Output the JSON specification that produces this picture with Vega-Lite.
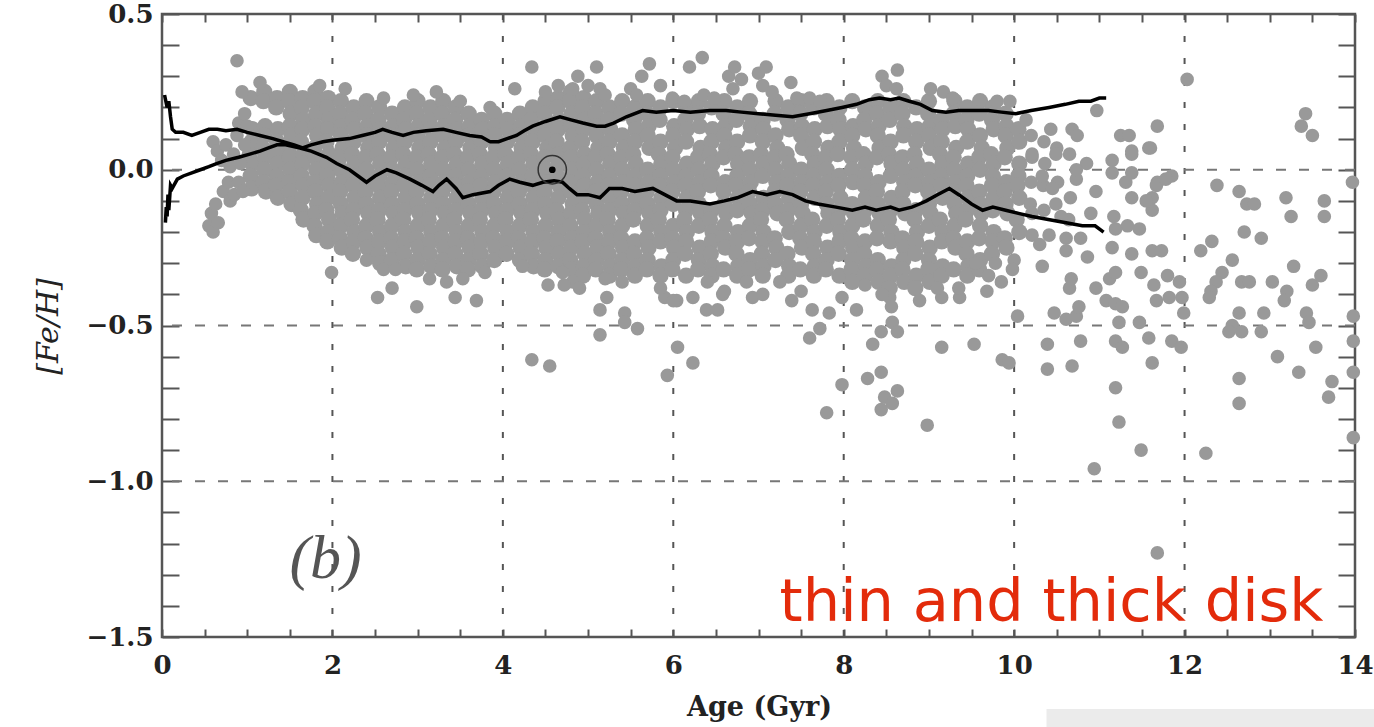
{
"$schema":"https://vega.github.io/schema/vega-lite/v6.json",
"width":1193,"height":623,
"autosize":{"type":"none"},
"padding":{"left":162,"top":14,"right":19,"bottom":90},
"background":"white",
"config":{"view":{"stroke":"#555","strokeWidth":2.5}},
"datasets":{
"gx":[{"v":2},{"v":4},{"v":6},{"v":8},{"v":10},{"v":12}],
"gy":[{"v":0},{"v":-0.5},{"v":-1}],
"core":[
{"a":1.04,"f":0.23},{"a":1.06,"f":0.13},{"a":1.05,"f":0.09},{"a":1.03,"f":0.05},{"a":1.06,"f":0.02},{"a":1.04,"f":-0.02},{"a":1.05,"f":-0.06},
{"a":1.2,"f":0.25},{"a":1.19,"f":0.22},{"a":1.21,"f":0.14},{"a":1.2,"f":0.11},{"a":1.18,"f":0.07},{"a":1.21,"f":0.04},{"a":1.2,"f":0.0},{"a":1.19,"f":-0.04},{"a":1.22,"f":-0.07},
{"a":1.35,"f":0.23},{"a":1.34,"f":0.2},{"a":1.36,"f":0.13},{"a":1.35,"f":0.09},{"a":1.33,"f":0.05},{"a":1.36,"f":0.02},{"a":1.35,"f":-0.02},{"a":1.34,"f":-0.05},{"a":1.36,"f":-0.09},
{"a":1.5,"f":0.25},{"a":1.49,"f":0.22},{"a":1.51,"f":0.18},{"a":1.5,"f":0.14},{"a":1.52,"f":0.11},{"a":1.49,"f":0.07},{"a":1.5,"f":0.04},{"a":1.51,"f":0.0},{"a":1.49,"f":-0.04},{"a":1.5,"f":-0.07},{"a":1.52,"f":-0.11},
{"a":1.65,"f":0.23},{"a":1.64,"f":0.2},{"a":1.66,"f":0.16},{"a":1.65,"f":0.13},{"a":1.63,"f":0.09},{"a":1.66,"f":0.05},{"a":1.65,"f":0.02},{"a":1.64,"f":-0.02},{"a":1.66,"f":-0.05},{"a":1.65,"f":-0.09},{"a":1.63,"f":-0.13},{"a":1.66,"f":-0.16},
{"a":1.8,"f":0.25},{"a":1.79,"f":0.22},{"a":1.81,"f":0.18},{"a":1.8,"f":0.14},{"a":1.82,"f":0.11},{"a":1.79,"f":0.07},{"a":1.8,"f":0.04},{"a":1.81,"f":0.0},{"a":1.79,"f":-0.04},{"a":1.8,"f":-0.07},{"a":1.82,"f":-0.11},{"a":1.8,"f":-0.14},{"a":1.79,"f":-0.18},{"a":1.81,"f":-0.21},
{"a":1.95,"f":0.23},{"a":1.94,"f":0.2},{"a":1.96,"f":0.16},{"a":1.95,"f":0.13},{"a":1.93,"f":0.09},{"a":1.96,"f":0.05},{"a":1.95,"f":0.02},{"a":1.94,"f":-0.02},{"a":1.96,"f":-0.05},{"a":1.95,"f":-0.09},{"a":1.93,"f":-0.13},{"a":1.96,"f":-0.16},{"a":1.95,"f":-0.2},{"a":1.94,"f":-0.23},
{"a":2.1,"f":0.22},{"a":2.09,"f":0.18},{"a":2.11,"f":0.14},{"a":2.1,"f":0.11},{"a":2.12,"f":0.07},{"a":2.09,"f":0.04},{"a":2.1,"f":0.0},{"a":2.11,"f":-0.04},{"a":2.09,"f":-0.07},{"a":2.1,"f":-0.11},{"a":2.12,"f":-0.14},{"a":2.1,"f":-0.18},{"a":2.09,"f":-0.22},{"a":2.11,"f":-0.25},
{"a":2.25,"f":0.2},{"a":2.24,"f":0.16},{"a":2.26,"f":0.13},{"a":2.25,"f":0.09},{"a":2.23,"f":0.05},{"a":2.26,"f":0.02},{"a":2.25,"f":-0.02},{"a":2.24,"f":-0.05},{"a":2.26,"f":-0.09},{"a":2.25,"f":-0.13},{"a":2.23,"f":-0.16},{"a":2.26,"f":-0.2},{"a":2.25,"f":-0.23},{"a":2.24,"f":-0.27},
{"a":2.4,"f":0.22},{"a":2.39,"f":0.18},{"a":2.41,"f":0.14},{"a":2.4,"f":0.11},{"a":2.42,"f":0.07},{"a":2.39,"f":0.04},{"a":2.4,"f":0.0},{"a":2.41,"f":-0.04},{"a":2.39,"f":-0.07},{"a":2.4,"f":-0.11},{"a":2.42,"f":-0.14},{"a":2.4,"f":-0.18},{"a":2.39,"f":-0.22},{"a":2.41,"f":-0.25},
{"a":2.55,"f":0.2},{"a":2.54,"f":0.16},{"a":2.56,"f":0.13},{"a":2.55,"f":0.09},{"a":2.53,"f":0.05},{"a":2.56,"f":0.02},{"a":2.55,"f":-0.02},{"a":2.54,"f":-0.05},{"a":2.56,"f":-0.09},{"a":2.55,"f":-0.13},{"a":2.53,"f":-0.16},{"a":2.56,"f":-0.2},{"a":2.55,"f":-0.23},{"a":2.54,"f":-0.27},{"a":2.56,"f":-0.3},
{"a":2.7,"f":0.18},{"a":2.71,"f":0.14},{"a":2.7,"f":0.11},{"a":2.72,"f":0.07},{"a":2.69,"f":0.04},{"a":2.7,"f":0.0},{"a":2.71,"f":-0.04},{"a":2.69,"f":-0.07},{"a":2.7,"f":-0.11},{"a":2.72,"f":-0.14},{"a":2.7,"f":-0.18},{"a":2.69,"f":-0.22},{"a":2.71,"f":-0.25},{"a":2.7,"f":-0.29},
{"a":2.85,"f":0.2},{"a":2.84,"f":0.16},{"a":2.86,"f":0.13},{"a":2.85,"f":0.09},{"a":2.83,"f":0.05},{"a":2.86,"f":0.02},{"a":2.85,"f":-0.02},{"a":2.84,"f":-0.05},{"a":2.86,"f":-0.09},{"a":2.85,"f":-0.13},{"a":2.83,"f":-0.16},{"a":2.86,"f":-0.2},{"a":2.85,"f":-0.23},{"a":2.84,"f":-0.27},{"a":2.86,"f":-0.31},
{"a":3.0,"f":0.22},{"a":2.99,"f":0.18},{"a":3.01,"f":0.14},{"a":3.0,"f":0.11},{"a":3.02,"f":0.07},{"a":2.99,"f":0.04},{"a":3.0,"f":0.0},{"a":3.01,"f":-0.04},{"a":2.99,"f":-0.07},{"a":3.0,"f":-0.11},{"a":3.02,"f":-0.14},{"a":3.0,"f":-0.18},{"a":2.99,"f":-0.22},{"a":3.01,"f":-0.25},{"a":3.0,"f":-0.29},{"a":2.99,"f":-0.32},
{"a":3.15,"f":0.2},{"a":3.14,"f":0.16},{"a":3.16,"f":0.13},{"a":3.15,"f":0.09},{"a":3.13,"f":0.05},{"a":3.16,"f":0.02},{"a":3.15,"f":-0.02},{"a":3.14,"f":-0.05},{"a":3.16,"f":-0.09},{"a":3.15,"f":-0.13},{"a":3.13,"f":-0.16},{"a":3.16,"f":-0.2},{"a":3.15,"f":-0.23},{"a":3.14,"f":-0.27},{"a":3.16,"f":-0.31},
{"a":3.3,"f":0.22},{"a":3.29,"f":0.18},{"a":3.31,"f":0.14},{"a":3.3,"f":0.11},{"a":3.32,"f":0.07},{"a":3.29,"f":0.04},{"a":3.3,"f":0.0},{"a":3.31,"f":-0.04},{"a":3.29,"f":-0.07},{"a":3.3,"f":-0.11},{"a":3.32,"f":-0.14},{"a":3.3,"f":-0.18},{"a":3.29,"f":-0.22},{"a":3.31,"f":-0.25},{"a":3.3,"f":-0.29},{"a":3.29,"f":-0.32},
{"a":3.45,"f":0.2},{"a":3.44,"f":0.16},{"a":3.46,"f":0.13},{"a":3.45,"f":0.09},{"a":3.43,"f":0.05},{"a":3.46,"f":0.02},{"a":3.45,"f":-0.02},{"a":3.44,"f":-0.05},{"a":3.46,"f":-0.09},{"a":3.45,"f":-0.13},{"a":3.43,"f":-0.16},{"a":3.46,"f":-0.2},{"a":3.45,"f":-0.23},{"a":3.44,"f":-0.27},{"a":3.46,"f":-0.31},
{"a":3.6,"f":0.18},{"a":3.61,"f":0.14},{"a":3.6,"f":0.11},{"a":3.62,"f":0.07},{"a":3.59,"f":0.04},{"a":3.6,"f":0.0},{"a":3.61,"f":-0.04},{"a":3.59,"f":-0.07},{"a":3.6,"f":-0.11},{"a":3.62,"f":-0.14},{"a":3.6,"f":-0.18},{"a":3.59,"f":-0.22},{"a":3.61,"f":-0.25},{"a":3.6,"f":-0.29},{"a":3.59,"f":-0.32},
{"a":3.75,"f":0.16},{"a":3.76,"f":0.13},{"a":3.75,"f":0.09},{"a":3.73,"f":0.05},{"a":3.76,"f":0.02},{"a":3.75,"f":-0.02},{"a":3.74,"f":-0.05},{"a":3.76,"f":-0.09},{"a":3.75,"f":-0.13},{"a":3.73,"f":-0.16},{"a":3.76,"f":-0.2},{"a":3.75,"f":-0.23},{"a":3.74,"f":-0.27},{"a":3.76,"f":-0.31},
{"a":3.9,"f":0.18},{"a":3.91,"f":0.14},{"a":3.9,"f":0.11},{"a":3.92,"f":0.07},{"a":3.89,"f":0.04},{"a":3.9,"f":0.0},{"a":3.91,"f":-0.04},{"a":3.89,"f":-0.07},{"a":3.9,"f":-0.11},{"a":3.92,"f":-0.14},{"a":3.9,"f":-0.18},{"a":3.89,"f":-0.22},{"a":3.91,"f":-0.25},{"a":3.9,"f":-0.29},
{"a":4.05,"f":0.16},{"a":4.06,"f":0.13},{"a":4.05,"f":0.09},{"a":4.03,"f":0.05},{"a":4.06,"f":0.02},{"a":4.05,"f":-0.02},{"a":4.04,"f":-0.05},{"a":4.06,"f":-0.09},{"a":4.05,"f":-0.13},{"a":4.03,"f":-0.16},{"a":4.06,"f":-0.2},{"a":4.05,"f":-0.23},{"a":4.04,"f":-0.27},
{"a":4.2,"f":0.18},{"a":4.21,"f":0.14},{"a":4.2,"f":0.11},{"a":4.22,"f":0.07},{"a":4.19,"f":0.04},{"a":4.2,"f":0.0},{"a":4.21,"f":-0.04},{"a":4.19,"f":-0.07},{"a":4.2,"f":-0.11},{"a":4.22,"f":-0.14},{"a":4.2,"f":-0.18},{"a":4.19,"f":-0.22},{"a":4.21,"f":-0.25},{"a":4.2,"f":-0.29},
{"a":4.35,"f":0.2},{"a":4.34,"f":0.16},{"a":4.36,"f":0.13},{"a":4.35,"f":0.09},{"a":4.33,"f":0.05},{"a":4.36,"f":0.02},{"a":4.35,"f":-0.02},{"a":4.34,"f":-0.05},{"a":4.36,"f":-0.09},{"a":4.35,"f":-0.13},{"a":4.33,"f":-0.16},{"a":4.36,"f":-0.2},{"a":4.35,"f":-0.23},{"a":4.34,"f":-0.27},{"a":4.36,"f":-0.31},
{"a":4.5,"f":0.22},{"a":4.49,"f":0.18},{"a":4.51,"f":0.14},{"a":4.5,"f":0.11},{"a":4.52,"f":0.07},{"a":4.49,"f":0.04},{"a":4.5,"f":0.0},{"a":4.51,"f":-0.04},{"a":4.49,"f":-0.07},{"a":4.5,"f":-0.11},{"a":4.52,"f":-0.14},{"a":4.5,"f":-0.18},{"a":4.49,"f":-0.22},{"a":4.51,"f":-0.25},{"a":4.5,"f":-0.29},{"a":4.49,"f":-0.32},
{"a":4.65,"f":0.23},{"a":4.64,"f":0.2},{"a":4.66,"f":0.16},{"a":4.65,"f":0.13},{"a":4.63,"f":0.09},{"a":4.66,"f":0.05},{"a":4.65,"f":0.02},{"a":4.64,"f":-0.02},{"a":4.66,"f":-0.05},{"a":4.65,"f":-0.09},{"a":4.63,"f":-0.13},{"a":4.66,"f":-0.16},{"a":4.65,"f":-0.2},{"a":4.64,"f":-0.23},{"a":4.66,"f":-0.27},{"a":4.65,"f":-0.31},
{"a":4.8,"f":0.25},{"a":4.79,"f":0.22},{"a":4.81,"f":0.18},{"a":4.8,"f":0.14},{"a":4.82,"f":0.11},{"a":4.79,"f":0.07},{"a":4.8,"f":0.04},{"a":4.81,"f":0.0},{"a":4.79,"f":-0.04},{"a":4.8,"f":-0.07},{"a":4.82,"f":-0.11},{"a":4.8,"f":-0.14},{"a":4.79,"f":-0.18},{"a":4.81,"f":-0.22},{"a":4.8,"f":-0.25},{"a":4.79,"f":-0.29},{"a":4.81,"f":-0.32},
{"a":4.95,"f":0.23},{"a":4.94,"f":0.2},{"a":4.96,"f":0.16},{"a":4.95,"f":0.13},{"a":4.93,"f":0.09},{"a":4.96,"f":0.05},{"a":4.95,"f":0.02},{"a":4.94,"f":-0.02},{"a":4.96,"f":-0.05},{"a":4.95,"f":-0.09},{"a":4.93,"f":-0.13},{"a":4.96,"f":-0.16},{"a":4.95,"f":-0.2},{"a":4.94,"f":-0.23},{"a":4.96,"f":-0.27},{"a":4.95,"f":-0.31},{"a":4.94,"f":-0.34},
{"a":5.1,"f":0.22},{"a":5.09,"f":0.18},{"a":5.11,"f":0.14},{"a":5.1,"f":0.11},{"a":5.12,"f":0.07},{"a":5.09,"f":0.04},{"a":5.1,"f":0.0},{"a":5.11,"f":-0.04},{"a":5.09,"f":-0.07},{"a":5.1,"f":-0.11},{"a":5.12,"f":-0.14},{"a":5.1,"f":-0.18},{"a":5.09,"f":-0.22},{"a":5.11,"f":-0.25},{"a":5.1,"f":-0.29},{"a":5.09,"f":-0.32},
{"a":5.25,"f":0.2},{"a":5.24,"f":0.16},{"a":5.26,"f":0.13},{"a":5.25,"f":0.09},{"a":5.23,"f":0.05},{"a":5.26,"f":0.02},{"a":5.25,"f":-0.02},{"a":5.24,"f":-0.05},{"a":5.26,"f":-0.09},{"a":5.25,"f":-0.13},{"a":5.23,"f":-0.16},{"a":5.26,"f":-0.2},{"a":5.25,"f":-0.23},{"a":5.24,"f":-0.27},{"a":5.26,"f":-0.31},{"a":5.25,"f":-0.34},
{"a":5.4,"f":0.22},{"a":5.39,"f":0.18},{"a":5.4,"f":0.11},{"a":5.42,"f":0.07},{"a":5.39,"f":0.04},{"a":5.4,"f":0.0},{"a":5.41,"f":-0.04},{"a":5.39,"f":-0.07},{"a":5.4,"f":-0.11},{"a":5.42,"f":-0.14},{"a":5.4,"f":-0.18},{"a":5.39,"f":-0.22},{"a":5.41,"f":-0.25},{"a":5.4,"f":-0.29},{"a":5.39,"f":-0.32},
{"a":5.55,"f":0.2},{"a":5.54,"f":0.16},{"a":5.56,"f":0.13},{"a":5.55,"f":0.09},{"a":5.53,"f":0.05},{"a":5.56,"f":0.02},{"a":5.55,"f":-0.02},{"a":5.54,"f":-0.05},{"a":5.56,"f":-0.09},{"a":5.55,"f":-0.13},{"a":5.53,"f":-0.16},{"a":5.55,"f":-0.23},{"a":5.54,"f":-0.27},{"a":5.56,"f":-0.31},{"a":5.55,"f":-0.34},
{"a":5.7,"f":0.22},{"a":5.69,"f":0.18},{"a":5.71,"f":0.14},{"a":5.7,"f":0.11},{"a":5.72,"f":0.07},{"a":5.7,"f":0.0},{"a":5.71,"f":-0.04},{"a":5.69,"f":-0.07},{"a":5.7,"f":-0.11},{"a":5.72,"f":-0.14},{"a":5.7,"f":-0.18},{"a":5.69,"f":-0.22},{"a":5.71,"f":-0.25},{"a":5.7,"f":-0.29},{"a":5.69,"f":-0.32},
{"a":5.85,"f":0.2},{"a":5.84,"f":0.16},{"a":5.85,"f":0.09},{"a":5.83,"f":0.05},{"a":5.86,"f":0.02},{"a":5.85,"f":-0.02},{"a":5.84,"f":-0.05},{"a":5.86,"f":-0.09},{"a":5.85,"f":-0.13},{"a":5.83,"f":-0.16},{"a":5.86,"f":-0.2},{"a":5.85,"f":-0.23},{"a":5.86,"f":-0.31},{"a":5.85,"f":-0.34},
{"a":6.0,"f":0.22},{"a":6.01,"f":0.14},{"a":6.0,"f":0.11},{"a":6.02,"f":0.07},{"a":5.99,"f":0.04},{"a":6.0,"f":0.0},{"a":6.01,"f":-0.04},{"a":5.99,"f":-0.07},{"a":6.0,"f":-0.11},{"a":6.0,"f":-0.18},{"a":5.99,"f":-0.22},{"a":6.01,"f":-0.25},{"a":6.0,"f":-0.29},{"a":5.99,"f":-0.32},
{"a":6.15,"f":0.2},{"a":6.14,"f":0.16},{"a":6.16,"f":0.13},{"a":6.15,"f":0.09},{"a":6.16,"f":0.02},{"a":6.15,"f":-0.02},{"a":6.14,"f":-0.05},{"a":6.16,"f":-0.09},{"a":6.15,"f":-0.13},{"a":6.13,"f":-0.16},{"a":6.16,"f":-0.2},{"a":6.15,"f":-0.23},{"a":6.14,"f":-0.27},{"a":6.15,"f":-0.34},
{"a":6.3,"f":0.22},{"a":6.29,"f":0.18},{"a":6.31,"f":0.14},{"a":6.32,"f":0.07},{"a":6.29,"f":0.04},{"a":6.3,"f":0.0},{"a":6.31,"f":-0.04},{"a":6.29,"f":-0.07},{"a":6.3,"f":-0.11},{"a":6.32,"f":-0.14},{"a":6.3,"f":-0.18},{"a":6.31,"f":-0.25},{"a":6.3,"f":-0.29},{"a":6.29,"f":-0.32},
{"a":6.45,"f":0.2},{"a":6.46,"f":0.13},{"a":6.45,"f":0.09},{"a":6.43,"f":0.05},{"a":6.46,"f":0.02},{"a":6.45,"f":-0.02},{"a":6.44,"f":-0.05},{"a":6.45,"f":-0.13},{"a":6.43,"f":-0.16},{"a":6.46,"f":-0.2},{"a":6.45,"f":-0.23},{"a":6.44,"f":-0.27},{"a":6.46,"f":-0.31},{"a":6.45,"f":-0.34},
{"a":6.6,"f":0.22},{"a":6.59,"f":0.18},{"a":6.61,"f":0.14},{"a":6.6,"f":0.11},{"a":6.62,"f":0.07},{"a":6.59,"f":0.04},{"a":6.61,"f":-0.04},{"a":6.59,"f":-0.07},{"a":6.6,"f":-0.11},{"a":6.62,"f":-0.14},{"a":6.6,"f":-0.18},{"a":6.59,"f":-0.22},{"a":6.61,"f":-0.25},{"a":6.59,"f":-0.32},
{"a":6.75,"f":0.2},{"a":6.74,"f":0.16},{"a":6.75,"f":0.09},{"a":6.73,"f":0.05},{"a":6.76,"f":0.02},{"a":6.75,"f":-0.02},{"a":6.74,"f":-0.05},{"a":6.76,"f":-0.09},{"a":6.75,"f":-0.13},{"a":6.76,"f":-0.2},{"a":6.75,"f":-0.23},{"a":6.74,"f":-0.27},{"a":6.76,"f":-0.31},{"a":6.75,"f":-0.34},
{"a":6.9,"f":0.22},{"a":6.89,"f":0.18},{"a":6.91,"f":0.14},{"a":6.9,"f":0.11},{"a":6.89,"f":0.04},{"a":6.9,"f":0.0},{"a":6.91,"f":-0.04},{"a":6.89,"f":-0.07},{"a":6.9,"f":-0.11},{"a":6.92,"f":-0.14},{"a":6.9,"f":-0.18},{"a":6.89,"f":-0.22},{"a":6.9,"f":-0.29},{"a":6.89,"f":-0.32},
{"a":7.05,"f":0.16},{"a":7.06,"f":0.13},{"a":7.05,"f":0.09},{"a":7.03,"f":0.05},{"a":7.06,"f":0.02},{"a":7.05,"f":-0.02},{"a":7.06,"f":-0.09},{"a":7.05,"f":-0.13},{"a":7.03,"f":-0.16},{"a":7.06,"f":-0.2},{"a":7.05,"f":-0.23},{"a":7.04,"f":-0.27},{"a":7.06,"f":-0.31},{"a":7.05,"f":-0.34},
{"a":7.2,"f":0.22},{"a":7.19,"f":0.18},{"a":7.2,"f":0.11},{"a":7.22,"f":0.07},{"a":7.19,"f":0.04},{"a":7.2,"f":0.0},{"a":7.21,"f":-0.04},{"a":7.19,"f":-0.07},{"a":7.2,"f":-0.11},{"a":7.22,"f":-0.14},{"a":7.19,"f":-0.22},{"a":7.21,"f":-0.25},{"a":7.2,"f":-0.29},
{"a":7.35,"f":0.2},{"a":7.34,"f":0.16},{"a":7.36,"f":0.13},{"a":7.33,"f":0.05},{"a":7.36,"f":0.02},{"a":7.35,"f":-0.02},{"a":7.34,"f":-0.05},{"a":7.36,"f":-0.09},{"a":7.35,"f":-0.13},{"a":7.33,"f":-0.16},{"a":7.36,"f":-0.2},{"a":7.34,"f":-0.27},{"a":7.36,"f":-0.31},{"a":7.35,"f":-0.34},
{"a":7.5,"f":0.22},{"a":7.49,"f":0.18},{"a":7.51,"f":0.14},{"a":7.5,"f":0.11},{"a":7.52,"f":0.07},{"a":7.5,"f":0.0},{"a":7.51,"f":-0.04},{"a":7.49,"f":-0.07},{"a":7.5,"f":-0.11},{"a":7.52,"f":-0.14},{"a":7.5,"f":-0.18},{"a":7.49,"f":-0.22},{"a":7.51,"f":-0.25},{"a":7.49,"f":-0.32},
{"a":7.65,"f":0.2},{"a":7.66,"f":0.13},{"a":7.65,"f":0.09},{"a":7.63,"f":0.05},{"a":7.66,"f":0.02},{"a":7.65,"f":-0.02},{"a":7.64,"f":-0.05},{"a":7.66,"f":-0.09},{"a":7.63,"f":-0.16},{"a":7.66,"f":-0.2},{"a":7.65,"f":-0.23},{"a":7.64,"f":-0.27},{"a":7.66,"f":-0.31},{"a":7.65,"f":-0.34},
{"a":7.8,"f":0.22},{"a":7.79,"f":0.18},{"a":7.81,"f":0.14},{"a":7.82,"f":0.07},{"a":7.79,"f":0.04},{"a":7.8,"f":0.0},{"a":7.81,"f":-0.04},{"a":7.79,"f":-0.07},{"a":7.8,"f":-0.11},{"a":7.82,"f":-0.14},{"a":7.8,"f":-0.18},{"a":7.81,"f":-0.25},{"a":7.8,"f":-0.29},{"a":7.79,"f":-0.32},
{"a":7.95,"f":0.2},{"a":7.94,"f":0.16},{"a":7.96,"f":0.13},{"a":7.95,"f":0.09},{"a":7.93,"f":0.05},{"a":7.95,"f":-0.02},{"a":7.94,"f":-0.05},{"a":7.96,"f":-0.09},{"a":7.95,"f":-0.13},{"a":7.93,"f":-0.16},{"a":7.96,"f":-0.2},{"a":7.95,"f":-0.23},{"a":7.94,"f":-0.27},{"a":7.95,"f":-0.34},
{"a":8.1,"f":0.22},{"a":8.11,"f":0.14},{"a":8.1,"f":0.11},{"a":8.12,"f":0.07},{"a":8.09,"f":0.04},{"a":8.1,"f":0.0},{"a":8.11,"f":-0.04},{"a":8.1,"f":-0.11},{"a":8.12,"f":-0.14},{"a":8.1,"f":-0.18},{"a":8.09,"f":-0.22},{"a":8.11,"f":-0.25},{"a":8.1,"f":-0.29},{"a":8.09,"f":-0.32},{"a":8.1,"f":-0.36},
{"a":8.25,"f":0.2},{"a":8.24,"f":0.16},{"a":8.26,"f":0.13},{"a":8.23,"f":0.05},{"a":8.26,"f":0.02},{"a":8.25,"f":-0.02},{"a":8.24,"f":-0.05},{"a":8.26,"f":-0.09},{"a":8.25,"f":-0.13},{"a":8.23,"f":-0.16},{"a":8.25,"f":-0.23},{"a":8.24,"f":-0.27},{"a":8.26,"f":-0.31},{"a":8.25,"f":-0.34},
{"a":8.4,"f":0.22},{"a":8.39,"f":0.18},{"a":8.41,"f":0.14},{"a":8.4,"f":0.11},{"a":8.42,"f":0.07},{"a":8.39,"f":0.04},{"a":8.41,"f":-0.04},{"a":8.39,"f":-0.07},{"a":8.4,"f":-0.11},{"a":8.42,"f":-0.14},{"a":8.4,"f":-0.18},{"a":8.39,"f":-0.22},{"a":8.4,"f":-0.29},{"a":8.39,"f":-0.32},{"a":8.41,"f":-0.36},
{"a":8.55,"f":0.2},{"a":8.54,"f":0.16},{"a":8.55,"f":0.09},{"a":8.53,"f":0.05},{"a":8.56,"f":0.02},{"a":8.55,"f":-0.02},{"a":8.56,"f":-0.09},{"a":8.55,"f":-0.13},{"a":8.53,"f":-0.16},{"a":8.56,"f":-0.2},{"a":8.55,"f":-0.23},{"a":8.56,"f":-0.31},{"a":8.55,"f":-0.34},{"a":8.54,"f":-0.38},
{"a":8.7,"f":0.22},{"a":8.69,"f":0.18},{"a":8.71,"f":0.14},{"a":8.7,"f":0.11},{"a":8.69,"f":0.04},{"a":8.7,"f":0.0},{"a":8.71,"f":-0.04},{"a":8.69,"f":-0.07},{"a":8.7,"f":-0.11},{"a":8.72,"f":-0.14},{"a":8.69,"f":-0.22},{"a":8.71,"f":-0.25},{"a":8.7,"f":-0.29},{"a":8.69,"f":-0.32},{"a":8.71,"f":-0.36},
{"a":8.85,"f":0.2},{"a":8.86,"f":0.13},{"a":8.85,"f":0.09},{"a":8.83,"f":0.05},{"a":8.86,"f":0.02},{"a":8.85,"f":-0.02},{"a":8.84,"f":-0.05},{"a":8.85,"f":-0.13},{"a":8.83,"f":-0.16},{"a":8.86,"f":-0.2},{"a":8.85,"f":-0.23},{"a":8.84,"f":-0.27},{"a":8.85,"f":-0.34},{"a":8.84,"f":-0.38},
{"a":9.0,"f":0.22},{"a":8.99,"f":0.18},{"a":9.01,"f":0.14},{"a":9.0,"f":0.11},{"a":9.02,"f":0.07},{"a":9.0,"f":0.0},{"a":9.01,"f":-0.04},{"a":8.99,"f":-0.07},{"a":9.0,"f":-0.11},{"a":9.02,"f":-0.14},{"a":9.0,"f":-0.18},{"a":9.01,"f":-0.25},{"a":9.0,"f":-0.29},{"a":8.99,"f":-0.32},{"a":9.01,"f":-0.36},
{"a":9.15,"f":0.16},{"a":9.16,"f":0.13},{"a":9.15,"f":0.09},{"a":9.13,"f":0.05},{"a":9.16,"f":0.02},{"a":9.15,"f":-0.02},{"a":9.14,"f":-0.05},{"a":9.16,"f":-0.09},{"a":9.13,"f":-0.16},{"a":9.16,"f":-0.2},{"a":9.15,"f":-0.23},{"a":9.16,"f":-0.31},{"a":9.15,"f":-0.34},
{"a":9.3,"f":0.22},{"a":9.29,"f":0.18},{"a":9.31,"f":0.14},{"a":9.32,"f":0.07},{"a":9.29,"f":0.04},{"a":9.3,"f":0.0},{"a":9.31,"f":-0.04},{"a":9.29,"f":-0.07},{"a":9.3,"f":-0.11},{"a":9.32,"f":-0.14},{"a":9.3,"f":-0.18},{"a":9.29,"f":-0.22},{"a":9.31,"f":-0.25},{"a":9.29,"f":-0.32},
{"a":9.45,"f":0.2},{"a":9.44,"f":0.16},{"a":9.46,"f":0.13},{"a":9.45,"f":0.09},{"a":9.46,"f":0.02},{"a":9.45,"f":-0.02},{"a":9.44,"f":-0.05},{"a":9.46,"f":-0.09},{"a":9.45,"f":-0.13},{"a":9.43,"f":-0.16},{"a":9.45,"f":-0.23},{"a":9.44,"f":-0.27},{"a":9.46,"f":-0.31},{"a":9.45,"f":-0.34},
{"a":9.6,"f":0.22},{"a":9.59,"f":0.18},{"a":9.6,"f":0.11},{"a":9.62,"f":0.07},{"a":9.59,"f":0.04},{"a":9.6,"f":0.0},{"a":9.59,"f":-0.07},{"a":9.6,"f":-0.11},{"a":9.62,"f":-0.14},{"a":9.6,"f":-0.18},{"a":9.59,"f":-0.22},{"a":9.6,"f":-0.29},{"a":9.59,"f":-0.32},
{"a":9.75,"f":0.2},{"a":9.74,"f":0.16},{"a":9.76,"f":0.13},{"a":9.73,"f":0.05},{"a":9.76,"f":0.02},{"a":9.75,"f":-0.02},{"a":9.74,"f":-0.05},{"a":9.76,"f":-0.09},{"a":9.75,"f":-0.13},{"a":9.76,"f":-0.2},{"a":9.75,"f":-0.23},{"a":9.74,"f":-0.27},
{"a":9.9,"f":0.18},{"a":9.91,"f":0.14},{"a":9.9,"f":0.11},{"a":9.92,"f":0.07},{"a":9.89,"f":0.04},{"a":9.91,"f":-0.04},{"a":9.89,"f":-0.07},{"a":9.9,"f":-0.11},{"a":9.92,"f":-0.14},{"a":9.89,"f":-0.22},{"a":9.91,"f":-0.25},
{"a":10.05,"f":0.13},{"a":10.06,"f":0.09},{"a":10.06,"f":0.02},{"a":10.05,"f":-0.02},{"a":10.04,"f":-0.05},{"a":10.06,"f":-0.09},{"a":10.03,"f":-0.16},{"a":10.06,"f":-0.2}
],
"out":[
{"a":10.2,"f":0.11},{"a":10.21,"f":0.04},{"a":10.2,"f":-0.04},{"a":10.19,"f":-0.11},{"a":10.21,"f":-0.14},
{"a":10.35,"f":0.09},{"a":10.36,"f":0.02},{"a":10.34,"f":-0.05},{"a":10.35,"f":-0.13},
{"a":10.5,"f":0.07},{"a":10.51,"f":-0.04},{"a":10.49,"f":-0.11},
{"a":10.65,"f":0.05},{"a":10.66,"f":-0.09},{"a":10.64,"f":-0.16},
{"a":0.55,"f":-0.18},{"a":0.58,"f":-0.14},{"a":0.6,"f":-0.2},{"a":0.63,"f":-0.11},{"a":0.66,"f":-0.17},{"a":0.72,"f":-0.07},{"a":0.78,"f":-0.04},{"a":0.8,"f":-0.1},{"a":0.85,"f":-0.08},{"a":0.9,"f":-0.04},{"a":0.95,"f":-0.07},{"a":0.6,"f":0.09},{"a":0.65,"f":0.06},{"a":0.7,"f":0.03},{"a":0.75,"f":0.08},{"a":0.8,"f":0.01},{"a":0.84,"f":0.05},{"a":0.88,"f":0.11},{"a":0.92,"f":0.02},{"a":0.97,"f":0.08},{"a":0.9,"f":0.15},{"a":0.97,"f":0.18},{"a":1.0,"f":0.14},{"a":0.88,"f":0.35},{"a":0.94,"f":0.25},{"a":1.15,"f":0.28},
{"a":1.85,"f":0.27},{"a":2.15,"f":0.26},{"a":3.22,"f":0.25},{"a":4.14,"f":0.26},{"a":4.34,"f":0.33},{"a":4.5,"f":0.25},{"a":4.65,"f":0.27},{"a":4.88,"f":0.3},{"a":5.1,"f":0.33},{"a":4.82,"f":0.26},{"a":5.0,"f":0.27},{"a":5.14,"f":0.26},{"a":5.2,"f":0.24},{"a":5.5,"f":0.26},{"a":5.57,"f":0.24},{"a":5.63,"f":0.3},{"a":5.72,"f":0.34},{"a":5.85,"f":0.27},{"a":5.99,"f":0.23},{"a":6.13,"f":0.22},{"a":6.19,"f":0.33},{"a":6.34,"f":0.36},{"a":6.36,"f":0.24},{"a":6.48,"f":0.23},{"a":6.65,"f":0.3},{"a":6.7,"f":0.26},{"a":6.72,"f":0.33},{"a":6.8,"f":0.29},{"a":7.0,"f":0.31},{"a":7.05,"f":0.27},{"a":7.09,"f":0.33},{"a":7.16,"f":0.25},{"a":7.38,"f":0.28},{"a":7.45,"f":0.23},{"a":7.6,"f":0.23},{"a":7.72,"f":0.22},{"a":8.45,"f":0.3},{"a":8.5,"f":0.27},{"a":8.63,"f":0.32},{"a":8.62,"f":0.26},{"a":9.02,"f":0.26},{"a":9.17,"f":0.25},{"a":9.28,"f":0.23},{"a":9.8,"f":0.22},{"a":9.95,"f":0.22},{"a":2.6,"f":0.23},{"a":3.5,"f":0.22},{"a":3.85,"f":0.2},{"a":2.95,"f":0.24},
{"a":1.99,"f":-0.33},{"a":2.53,"f":-0.41},{"a":2.7,"f":-0.38},{"a":2.99,"f":-0.44},{"a":3.44,"f":-0.41},{"a":3.69,"f":-0.42},{"a":3.79,"f":-0.33},{"a":4.23,"f":-0.31},{"a":4.53,"f":-0.37},{"a":4.34,"f":-0.61},{"a":4.55,"f":-0.63},{"a":2.4,"f":-0.29},{"a":2.6,"f":-0.32},{"a":2.74,"f":-0.32},{"a":3.14,"f":-0.35},{"a":3.34,"f":-0.36},{"a":3.53,"f":-0.35},{"a":4.7,"f":-0.33},{"a":4.82,"f":-0.36},{"a":4.9,"f":-0.38},{"a":4.72,"f":-0.37},{"a":5.2,"f":-0.35},{"a":5.22,"f":-0.41},
{"a":5.14,"f":-0.45},{"a":5.14,"f":-0.53},{"a":5.43,"f":-0.46},{"a":5.43,"f":-0.49},{"a":5.58,"f":-0.51},{"a":5.9,"f":-0.41},{"a":6.04,"f":-0.42},{"a":6.23,"f":-0.41},{"a":6.39,"f":-0.45},{"a":6.52,"f":-0.45},{"a":6.58,"f":-0.4},{"a":6.05,"f":-0.57},{"a":6.23,"f":-0.62},{"a":5.93,"f":-0.66},{"a":6.93,"f":-0.41},{"a":7.39,"f":-0.42},{"a":7.63,"f":-0.45},{"a":7.83,"f":-0.46},{"a":7.72,"f":-0.51},{"a":7.6,"f":-0.54},{"a":7.98,"f":-0.41},{"a":8.15,"f":-0.45},{"a":7.98,"f":-0.69},{"a":7.8,"f":-0.78},{"a":8.34,"f":-0.56},{"a":8.44,"f":-0.52},{"a":8.57,"f":-0.49},{"a":8.63,"f":-0.52},{"a":8.28,"f":-0.67},{"a":8.44,"f":-0.65},{"a":8.48,"f":-0.73},{"a":8.63,"f":-0.71},{"a":8.57,"f":-0.75},{"a":8.44,"f":-0.77},{"a":8.98,"f":-0.82},{"a":9.15,"f":-0.57},{"a":9.53,"f":-0.56},{"a":8.89,"f":-0.42},{"a":9.15,"f":-0.41},{"a":9.36,"f":-0.41},{"a":9.68,"f":-0.39},{"a":8.54,"f":-0.41},{"a":8.56,"f":-0.44},
{"a":5.4,"f":-0.36},{"a":5.85,"f":-0.38},{"a":6.0,"f":-0.42},{"a":6.4,"f":-0.36},{"a":6.6,"f":-0.39},{"a":6.86,"f":-0.36},{"a":7.05,"f":-0.4},{"a":7.25,"f":-0.36},{"a":7.5,"f":-0.39},{"a":8.25,"f":-0.37},{"a":8.45,"f":-0.4},{"a":9.1,"f":-0.38},{"a":9.35,"f":-0.38},{"a":9.55,"f":-0.3},{"a":9.7,"f":-0.34},{"a":9.85,"f":-0.36},{"a":10.0,"f":-0.29},{"a":9.78,"f":-0.3},
{"a":11.68,"f":0.14},{"a":11.58,"f":0.07},{"a":11.38,"f":0.06},{"a":11.25,"f":0.11},{"a":11.35,"f":0.11},{"a":11.15,"f":0.03},{"a":11.15,"f":-0.01},{"a":11.38,"f":-0.01},{"a":11.85,"f":-0.02},{"a":11.68,"f":-0.04},{"a":11.62,"f":-0.09},{"a":11.62,"f":-0.13},{"a":12.03,"f":0.29},{"a":12.38,"f":-0.05},{"a":12.64,"f":-0.07},{"a":12.73,"f":-0.11},{"a":12.82,"f":-0.11},{"a":13.19,"f":-0.09},{"a":13.25,"f":-0.15},{"a":13.64,"f":-0.1},{"a":13.64,"f":-0.15},{"a":13.42,"f":0.18},{"a":13.37,"f":0.14},{"a":13.5,"f":0.11},{"a":13.97,"f":-0.04},{"a":12.7,"f":-0.2},{"a":12.9,"f":-0.22},{"a":12.19,"f":-0.26},{"a":12.32,"f":-0.23},{"a":12.56,"f":-0.29},{"a":12.44,"f":-0.33},{"a":12.37,"f":-0.36},{"a":12.31,"f":-0.39},{"a":12.29,"f":-0.41},{"a":12.67,"f":-0.36},{"a":12.76,"f":-0.36},{"a":13.03,"f":-0.36},{"a":13.28,"f":-0.31},{"a":13.2,"f":-0.39},{"a":13.17,"f":-0.42},{"a":13.5,"f":-0.37},{"a":13.6,"f":-0.34},{"a":12.64,"f":-0.46},{"a":12.56,"f":-0.5},{"a":12.52,"f":-0.52},{"a":12.67,"f":-0.52},{"a":12.93,"f":-0.46},{"a":12.9,"f":-0.52},{"a":13.43,"f":-0.46},{"a":13.46,"f":-0.49},{"a":13.09,"f":-0.6},{"a":13.34,"f":-0.65},{"a":13.54,"f":-0.57},{"a":12.64,"f":-0.67},{"a":12.64,"f":-0.75},{"a":13.73,"f":-0.68},{"a":13.69,"f":-0.73},{"a":12.25,"f":-0.91},{"a":13.98,"f":-0.47},{"a":13.98,"f":-0.55},{"a":13.98,"f":-0.65},{"a":13.98,"f":-0.86},{"a":11.68,"f":-1.23},
{"a":10.39,"f":-0.56},{"a":10.39,"f":-0.64},{"a":10.68,"f":-0.63},{"a":10.78,"f":-0.55},{"a":11.19,"f":-0.7},{"a":11.23,"f":-0.81},{"a":11.49,"f":-0.9},{"a":10.94,"f":-0.96},{"a":11.62,"f":-0.62},{"a":11.58,"f":-0.54},{"a":11.85,"f":-0.55},{"a":11.96,"f":-0.57},{"a":11.19,"f":-0.55},{"a":11.27,"f":-0.57},{"a":11.23,"f":-0.49},{"a":11.47,"f":-0.49},{"a":9.86,"f":-0.61},{"a":9.94,"f":-0.62},{"a":10.04,"f":-0.47},
{"a":10.47,"f":-0.46},{"a":10.61,"f":-0.48},{"a":10.73,"f":-0.47},{"a":10.76,"f":-0.44},{"a":10.65,"f":-0.38},{"a":10.67,"f":-0.35},{"a":10.96,"f":-0.38},{"a":11.08,"f":-0.42},{"a":11.19,"f":-0.43},{"a":11.27,"f":-0.44},{"a":11.12,"f":-0.35},{"a":11.19,"f":-0.33},{"a":11.49,"f":-0.33},{"a":11.64,"f":-0.37},{"a":11.67,"f":-0.42},{"a":11.8,"f":-0.34},{"a":11.82,"f":-0.41},{"a":11.94,"f":-0.36},{"a":11.97,"f":-0.41},{"a":11.99,"f":-0.46},{"a":11.38,"f":-0.27},{"a":11.62,"f":-0.26},{"a":11.73,"f":-0.26},{"a":11.15,"f":-0.25},{"a":10.86,"f":-0.28},{"a":10.61,"f":-0.26},{"a":10.33,"f":-0.31},{"a":9.98,"f":-0.32},{"a":11.17,"f":-0.15},{"a":11.33,"f":-0.18},{"a":11.47,"f":-0.19},{"a":11.19,"f":-0.19},{"a":10.21,"f":-0.21},{"a":10.41,"f":-0.21},{"a":10.61,"f":-0.22},{"a":10.78,"f":-0.22},{"a":11.31,"f":-0.04},{"a":11.38,"f":-0.09},{"a":11.55,"f":-0.1},{"a":11.67,"f":-0.05},{"a":11.78,"f":-0.03},{"a":11.38,"f":0.05},{"a":11.6,"f":0.07},{"a":10.33,"f":-0.02},{"a":10.45,"f":-0.06},{"a":10.73,"f":-0.03},{"a":10.85,"f":0.02},{"a":10.96,"f":-0.07},{"a":10.21,"f":0.05},{"a":10.49,"f":0.05},{"a":10.73,"f":0.0},{"a":10.43,"f":0.13},{"a":10.68,"f":0.13},{"a":10.74,"f":0.11},{"a":10.14,"f":0.16},{"a":10.97,"f":0.19},{"a":10.9,"f":-0.14},{"a":10.55,"f":-0.15},{"a":10.3,"f":-0.24}
],
"ln":[
{"s":"u","a":0.03,"f":0.24},{"s":"u","a":0.06,"f":0.2},{"s":"u","a":0.08,"f":0.22},{"s":"u","a":0.1,"f":0.17},{"s":"u","a":0.12,"f":0.13},{"s":"u","a":0.16,"f":0.12},{"s":"u","a":0.25,"f":0.12},{"s":"u","a":0.35,"f":0.11},{"s":"u","a":0.45,"f":0.12},{"s":"u","a":0.55,"f":0.13},{"s":"u","a":0.65,"f":0.13},{"s":"u","a":0.75,"f":0.125},{"s":"u","a":0.88,"f":0.13},{"s":"u","a":1.0,"f":0.12},{"s":"u","a":1.15,"f":0.11},{"s":"u","a":1.3,"f":0.1},{"s":"u","a":1.42,"f":0.09},{"s":"u","a":1.55,"f":0.08},{"s":"u","a":1.65,"f":0.07},{"s":"u","a":1.75,"f":0.08},{"s":"u","a":1.89,"f":0.09},{"s":"u","a":2.0,"f":0.095},{"s":"u","a":2.2,"f":0.1},{"s":"u","a":2.35,"f":0.11},{"s":"u","a":2.5,"f":0.12},{"s":"u","a":2.59,"f":0.13},{"s":"u","a":2.7,"f":0.12},{"s":"u","a":2.83,"f":0.11},{"s":"u","a":2.95,"f":0.12},{"s":"u","a":3.1,"f":0.125},{"s":"u","a":3.3,"f":0.13},{"s":"u","a":3.45,"f":0.12},{"s":"u","a":3.61,"f":0.11},{"s":"u","a":3.75,"f":0.105},{"s":"u","a":3.85,"f":0.09},{"s":"u","a":3.95,"f":0.09},{"s":"u","a":4.05,"f":0.1},{"s":"u","a":4.16,"f":0.11},{"s":"u","a":4.25,"f":0.125},{"s":"u","a":4.35,"f":0.14},{"s":"u","a":4.5,"f":0.155},{"s":"u","a":4.67,"f":0.17},{"s":"u","a":4.8,"f":0.16},{"s":"u","a":4.94,"f":0.15},{"s":"u","a":5.1,"f":0.14},{"s":"u","a":5.2,"f":0.14},{"s":"u","a":5.3,"f":0.15},{"s":"u","a":5.45,"f":0.17},{"s":"u","a":5.64,"f":0.19},{"s":"u","a":5.8,"f":0.185},{"s":"u","a":6.0,"f":0.19},{"s":"u","a":6.2,"f":0.185},{"s":"u","a":6.43,"f":0.19},{"s":"u","a":6.62,"f":0.19},{"s":"u","a":6.8,"f":0.185},{"s":"u","a":7.0,"f":0.18},{"s":"u","a":7.2,"f":0.175},{"s":"u","a":7.4,"f":0.17},{"s":"u","a":7.6,"f":0.18},{"s":"u","a":7.8,"f":0.19},{"s":"u","a":7.98,"f":0.2},{"s":"u","a":8.15,"f":0.21},{"s":"u","a":8.3,"f":0.225},{"s":"u","a":8.42,"f":0.23},{"s":"u","a":8.55,"f":0.225},{"s":"u","a":8.65,"f":0.23},{"s":"u","a":8.77,"f":0.22},{"s":"u","a":8.9,"f":0.21},{"s":"u","a":9.04,"f":0.19},{"s":"u","a":9.2,"f":0.185},{"s":"u","a":9.35,"f":0.19},{"s":"u","a":9.56,"f":0.19},{"s":"u","a":9.7,"f":0.19},{"s":"u","a":9.85,"f":0.185},{"s":"u","a":10.02,"f":0.18},{"s":"u","a":10.2,"f":0.19},{"s":"u","a":10.41,"f":0.2},{"s":"u","a":10.6,"f":0.21},{"s":"u","a":10.76,"f":0.22},{"s":"u","a":10.9,"f":0.22},{"s":"u","a":11.0,"f":0.23},{"s":"u","a":11.08,"f":0.23},
{"s":"l","a":0.04,"f":-0.17},{"s":"l","a":0.05,"f":-0.12},{"s":"l","a":0.06,"f":-0.15},{"s":"l","a":0.07,"f":-0.08},{"s":"l","a":0.08,"f":-0.13},{"s":"l","a":0.1,"f":-0.05},{"s":"l","a":0.12,"f":-0.06},{"s":"l","a":0.18,"f":-0.03},{"s":"l","a":0.25,"f":-0.02},{"s":"l","a":0.35,"f":-0.01},{"s":"l","a":0.45,"f":0.0},{"s":"l","a":0.55,"f":0.01},{"s":"l","a":0.64,"f":0.02},{"s":"l","a":0.75,"f":0.03},{"s":"l","a":0.9,"f":0.04},{"s":"l","a":1.03,"f":0.05},{"s":"l","a":1.15,"f":0.06},{"s":"l","a":1.25,"f":0.07},{"s":"l","a":1.35,"f":0.08},{"s":"l","a":1.45,"f":0.08},{"s":"l","a":1.62,"f":0.07},{"s":"l","a":1.75,"f":0.06},{"s":"l","a":1.93,"f":0.04},{"s":"l","a":2.05,"f":0.02},{"s":"l","a":2.2,"f":0.0},{"s":"l","a":2.3,"f":-0.02},{"s":"l","a":2.4,"f":-0.04},{"s":"l","a":2.5,"f":-0.02},{"s":"l","a":2.64,"f":0.0},{"s":"l","a":2.75,"f":-0.01},{"s":"l","a":2.91,"f":-0.03},{"s":"l","a":3.05,"f":-0.05},{"s":"l","a":3.18,"f":-0.07},{"s":"l","a":3.25,"f":-0.05},{"s":"l","a":3.34,"f":-0.03},{"s":"l","a":3.45,"f":-0.06},{"s":"l","a":3.53,"f":-0.09},{"s":"l","a":3.65,"f":-0.08},{"s":"l","a":3.85,"f":-0.07},{"s":"l","a":3.95,"f":-0.05},{"s":"l","a":4.08,"f":-0.03},{"s":"l","a":4.2,"f":-0.04},{"s":"l","a":4.35,"f":-0.05},{"s":"l","a":4.47,"f":-0.04},{"s":"l","a":4.6,"f":-0.035},{"s":"l","a":4.7,"f":-0.04},{"s":"l","a":4.78,"f":-0.06},{"s":"l","a":4.87,"f":-0.08},{"s":"l","a":5.0,"f":-0.08},{"s":"l","a":5.14,"f":-0.09},{"s":"l","a":5.25,"f":-0.06},{"s":"l","a":5.4,"f":-0.06},{"s":"l","a":5.55,"f":-0.07},{"s":"l","a":5.76,"f":-0.06},{"s":"l","a":5.9,"f":-0.08},{"s":"l","a":6.04,"f":-0.1},{"s":"l","a":6.2,"f":-0.1},{"s":"l","a":6.43,"f":-0.11},{"s":"l","a":6.6,"f":-0.1},{"s":"l","a":6.75,"f":-0.09},{"s":"l","a":6.93,"f":-0.07},{"s":"l","a":7.1,"f":-0.08},{"s":"l","a":7.25,"f":-0.07},{"s":"l","a":7.4,"f":-0.08},{"s":"l","a":7.55,"f":-0.1},{"s":"l","a":7.7,"f":-0.11},{"s":"l","a":7.91,"f":-0.12},{"s":"l","a":8.1,"f":-0.13},{"s":"l","a":8.25,"f":-0.12},{"s":"l","a":8.38,"f":-0.13},{"s":"l","a":8.55,"f":-0.12},{"s":"l","a":8.65,"f":-0.13},{"s":"l","a":8.8,"f":-0.12},{"s":"l","a":8.89,"f":-0.11},{"s":"l","a":8.97,"f":-0.1},{"s":"l","a":9.1,"f":-0.08},{"s":"l","a":9.24,"f":-0.06},{"s":"l","a":9.35,"f":-0.08},{"s":"l","a":9.5,"f":-0.11},{"s":"l","a":9.63,"f":-0.13},{"s":"l","a":9.75,"f":-0.12},{"s":"l","a":9.9,"f":-0.13},{"s":"l","a":10.05,"f":-0.14},{"s":"l","a":10.21,"f":-0.15},{"s":"l","a":10.4,"f":-0.16},{"s":"l","a":10.61,"f":-0.17},{"s":"l","a":10.8,"f":-0.18},{"s":"l","a":10.95,"f":-0.18},{"s":"l","a":11.05,"f":-0.2}
]
},
"layer":[
{"data":{"values":[{"a":10.38,"a2":14.4,"f":-1.731,"f2":-1.8}]},
 "mark":{"type":"rect","color":"#ebebeb","clip":false},
 "encoding":{"x":{"field":"a","type":"quantitative","axis":null},"x2":{"field":"a2"},"y":{"field":"f","type":"quantitative","axis":null},"y2":{"field":"f2"}}},
{"data":{"name":"gx"},"mark":{"type":"rule","color":"#555","strokeWidth":2,"strokeDash":[6,16]},
 "encoding":{"x":{"field":"v","type":"quantitative","axis":null}}},
{"data":{"name":"gy"},"mark":{"type":"rule","color":"#777","strokeWidth":2,"strokeDash":[10,13]},
 "encoding":{"y":{"field":"v","type":"quantitative","axis":null}}},
{"data":{"name":"core"},
 "mark":{"type":"circle","size":265,"color":"#999999","opacity":1},
 "encoding":{
  "x":{"field":"a","type":"quantitative","scale":{"domain":[0,14],"nice":false,"zero":false},
   "axis":{"orient":"bottom","values":[0,0.5,1,1.5,2,2.5,3,3.5,4,4.5,5,5.5,6,6.5,7,7.5,8,8.5,9,9.5,10,10.5,11,11.5,12,12.5,13,13.5,14],
    "tickSize":-8,"tickWidth":2,"tickColor":"#555","domain":false,"grid":false,
    "labelExpr":"datum.value % 2 == 0 ? format(datum.value, 'd') : ''","labelOverlap":false,"labelFlush":false,
    "labelFont":"DejaVu Serif","labelFontWeight":"bold","labelFontSize":26,"labelColor":"#222","labelPadding":23,
    "title":"Age (Gyr)","titleFont":"DejaVu Serif","titleFontWeight":"bold","titleFontSize":27,"titleColor":"#222",
    "titleBaseline":"alphabetic","titleY":78,"titleX":597}},
  "y":{"field":"f","type":"quantitative","scale":{"domain":[-1.5,0.5],"nice":false,"zero":false},
   "axis":{"orient":"left","values":[-1.5,-1.4,-1.3,-1.2,-1.1,-1,-0.9,-0.8,-0.7,-0.6,-0.5,-0.4,-0.3,-0.2,-0.1,0,0.1,0.2,0.3,0.4,0.5],
    "tickSize":-17,"tickWidth":2,"tickColor":"#555","domain":false,"grid":false,
    "labelExpr":"abs(datum.value*2 - round(datum.value*2)) < 0.01 ? format(datum.value, '.1f') : ''","labelOverlap":false,"labelFlush":false,
    "labelFont":"DejaVu Serif","labelFontWeight":"bold","labelFontSize":26,"labelColor":"#222","labelPadding":26,
    "title":"[Fe/H]","titleFont":"DejaVu Serif","titleFontStyle":"italic","titleFontWeight":"normal","titleFontSize":30,"titleColor":"#222",
    "titleAngle":-90,"titleAlign":"center","titleBaseline":"middle","titleX":-114,"titleY":312}}}},
{"data":{"name":"out"},
 "mark":{"type":"circle","size":185,"color":"#999999","opacity":1},
 "encoding":{"x":{"field":"a","type":"quantitative","axis":null},"y":{"field":"f","type":"quantitative","axis":null}}},
{"data":{"name":"ln"},
 "mark":{"type":"line","color":"black","strokeWidth":3.5},
 "encoding":{
  "x":{"field":"a","type":"quantitative",
   "axis":{"orient":"top","values":[0,0.5,1,1.5,2,2.5,3,3.5,4,4.5,5,5.5,6,6.5,7,7.5,8,8.5,9,9.5,10,10.5,11,11.5,12,12.5,13,13.5,14],
    "tickSize":-8,"tickWidth":2,"tickColor":"#555","domain":false,"grid":false,"labels":false,"title":null}},
  "y":{"field":"f","type":"quantitative",
   "axis":{"orient":"right","values":[-1.5,-1.4,-1.3,-1.2,-1.1,-1,-0.9,-0.8,-0.7,-0.6,-0.5,-0.4,-0.3,-0.2,-0.1,0,0.1,0.2,0.3,0.4,0.5],
    "tickSize":-17,"tickWidth":2,"tickColor":"#555","domain":false,"grid":false,"labels":false,"title":null}},
  "detail":{"field":"s"}}},
{"data":{"values":[{"a":4.58,"f":0.0}]},
 "mark":{"type":"point","shape":"circle","size":800,"filled":false,"stroke":"#333","strokeWidth":1.5,"opacity":1},
 "encoding":{"x":{"field":"a","type":"quantitative","axis":null},"y":{"field":"f","type":"quantitative","axis":null}}},
{"data":{"values":[{"a":4.58,"f":0.0}]},
 "mark":{"type":"circle","size":45,"color":"black","opacity":1},
 "encoding":{"x":{"field":"a","type":"quantitative","axis":null},"y":{"field":"f","type":"quantitative","axis":null}}},
{"data":{"values":[{"a":1.92,"f":-1.25,"t":"(b)"}]},
 "mark":{"type":"text","font":"Liberation Serif","fontStyle":"italic","fontSize":62,"color":"#555","align":"center","baseline":"middle"},
 "encoding":{"x":{"field":"a","type":"quantitative","axis":null},"y":{"field":"f","type":"quantitative","axis":null},"text":{"field":"t"}}},
{"data":{"values":[{"a":13.63,"f":-1.449,"t":"thin and thick disk"}]},
 "mark":{"type":"text","font":"DejaVu Sans","fontSize":59,"color":"#e32b0b","align":"right","baseline":"alphabetic"},
 "encoding":{"x":{"field":"a","type":"quantitative","axis":null},"y":{"field":"f","type":"quantitative","axis":null},"text":{"field":"t"}}}
]
}
